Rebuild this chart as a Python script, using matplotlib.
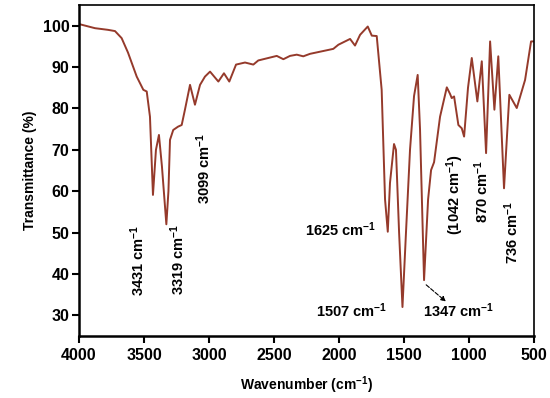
import matplotlib
matplotlib.use("Agg")
import matplotlib.pyplot as plt

# FTIR spectrum
wavenumber = [
    4000, 3877, 3777, 3723, 3672, 3623, 3556, 3505, 3479, 3454, 3431, 3408,
    3385, 3362, 3328, 3312, 3300, 3275, 3238, 3210, 3185, 3146, 3108, 3069,
    3031, 2992, 2928, 2885, 2844, 2792, 2723, 2659, 2621, 2479, 2428, 2377,
    2325, 2275, 2223, 2044, 2005, 1915, 1877, 1838, 1779, 1748, 1710, 1672,
    1646, 1625, 1608, 1577, 1562, 1538, 1512, 1485, 1454, 1423, 1395, 1377,
    1346, 1315, 1292, 1269, 1223, 1171, 1146, 1133, 1115, 1082, 1056, 1038,
    1008, 979, 936, 902, 869, 838, 805, 775, 731, 690, 633, 569, 523, 498,
]
transmittance = [
    100.4, 99.4, 99.0, 98.7, 97.0, 93.5, 87.7, 84.5, 84.1, 78.0, 59.1, 70.0,
    73.6, 66.0, 52.0, 60.0, 72.4, 74.8, 75.6, 76.0, 79.7, 85.7, 80.9, 85.7,
    87.7, 88.9, 86.5, 88.5, 86.5, 90.6, 91.1, 90.6, 91.6, 92.7, 91.9, 92.7,
    93.0, 92.6, 93.2, 94.4, 95.4, 96.8, 95.2, 97.8, 99.8, 97.6, 97.5, 84.5,
    58.0, 50.2, 62.0, 71.4, 70.0, 50.0, 32.0, 50.0, 70.0, 83.0, 88.1, 75.0,
    38.5, 58.0, 65.1, 67.0, 78.0, 85.1, 83.5, 82.5, 82.9, 76.0, 75.2, 73.2,
    85.0, 92.2, 81.7, 91.4, 69.2, 96.2, 79.7, 92.6, 60.7, 83.3, 80.1, 86.9,
    96.2, 96.2,
]

# peak labels: (text, x, y, rotation)
peak_labels = [
    ("3431 cm$^{-1}$", 3546, 43.3, 90),
    ("3319 cm$^{-1}$", 3238, 43.6, 90),
    ("3099 cm$^{-1}$", 3038, 65.6, 90),
    ("1625 cm$^{-1}$", 1985, 50.6, 0),
    ("1507 cm$^{-1}$", 1900, 31.2, 0),
    ("1347 cm$^{-1}$", 1077, 31.2, 0),
    ("(1042 cm$^{-1}$)", 1108, 59.3, 90),
    ("870 cm$^{-1}$", 902, 60.0, 90),
    ("736 cm$^{-1}$", 672, 50.0, 90),
]

plt.rcParams["font.family"] = ["Liberation Sans", "DejaVu Sans"]
plt.rcParams["font.weight"] = "bold"
plt.rcParams["mathtext.default"] = "regular"

fig = plt.figure(figsize=(5.5, 3.98), dpi=100)
ax = fig.add_axes([0.1436, 0.1558, 0.8274, 0.8316])

ax.plot(wavenumber, transmittance, color="#953a2b", linewidth=1.4)

for text, x, y, rot in peak_labels:
    ax.text(x, y, text, rotation=rot, ha="center", va="center",
            fontsize=10.5, fontweight="bold")

ax.annotate("", xy=(1162, 32.9), xytext=(1346, 37.8),
            arrowprops=dict(arrowstyle="-|>", linestyle="--", color="black",
                            linewidth=0.8, mutation_scale=7))

ax.set_xlim(4000, 500)
ax.set_ylim(25, 105)
ax.set_xticks([4000, 3500, 3000, 2500, 2000, 1500, 1000, 500])
ax.set_yticks([30, 40, 50, 60, 70, 80, 90, 100])
ax.tick_params(axis="both", direction="out", length=5, width=1.5,
               labelsize=11.5, top=False, right=False)
ax.tick_params(axis="y", pad=2)
for lbl in ax.get_xticklabels() + ax.get_yticklabels():
    lbl.set_fontweight("bold")
for side in ["left", "bottom"]:
    ax.spines[side].set_linewidth(1.8)
for side in ["top", "right"]:
    ax.spines[side].set_linewidth(1.2)

ax.set_xlabel("Wavenumber (cm$^{-1}$)", fontsize=10, fontweight="bold", labelpad=8)
ax.set_ylabel("Transmittance (%)", fontsize=10, fontweight="bold", labelpad=4)

fig.savefig("out.png", dpi=100)
plt.close(fig)
